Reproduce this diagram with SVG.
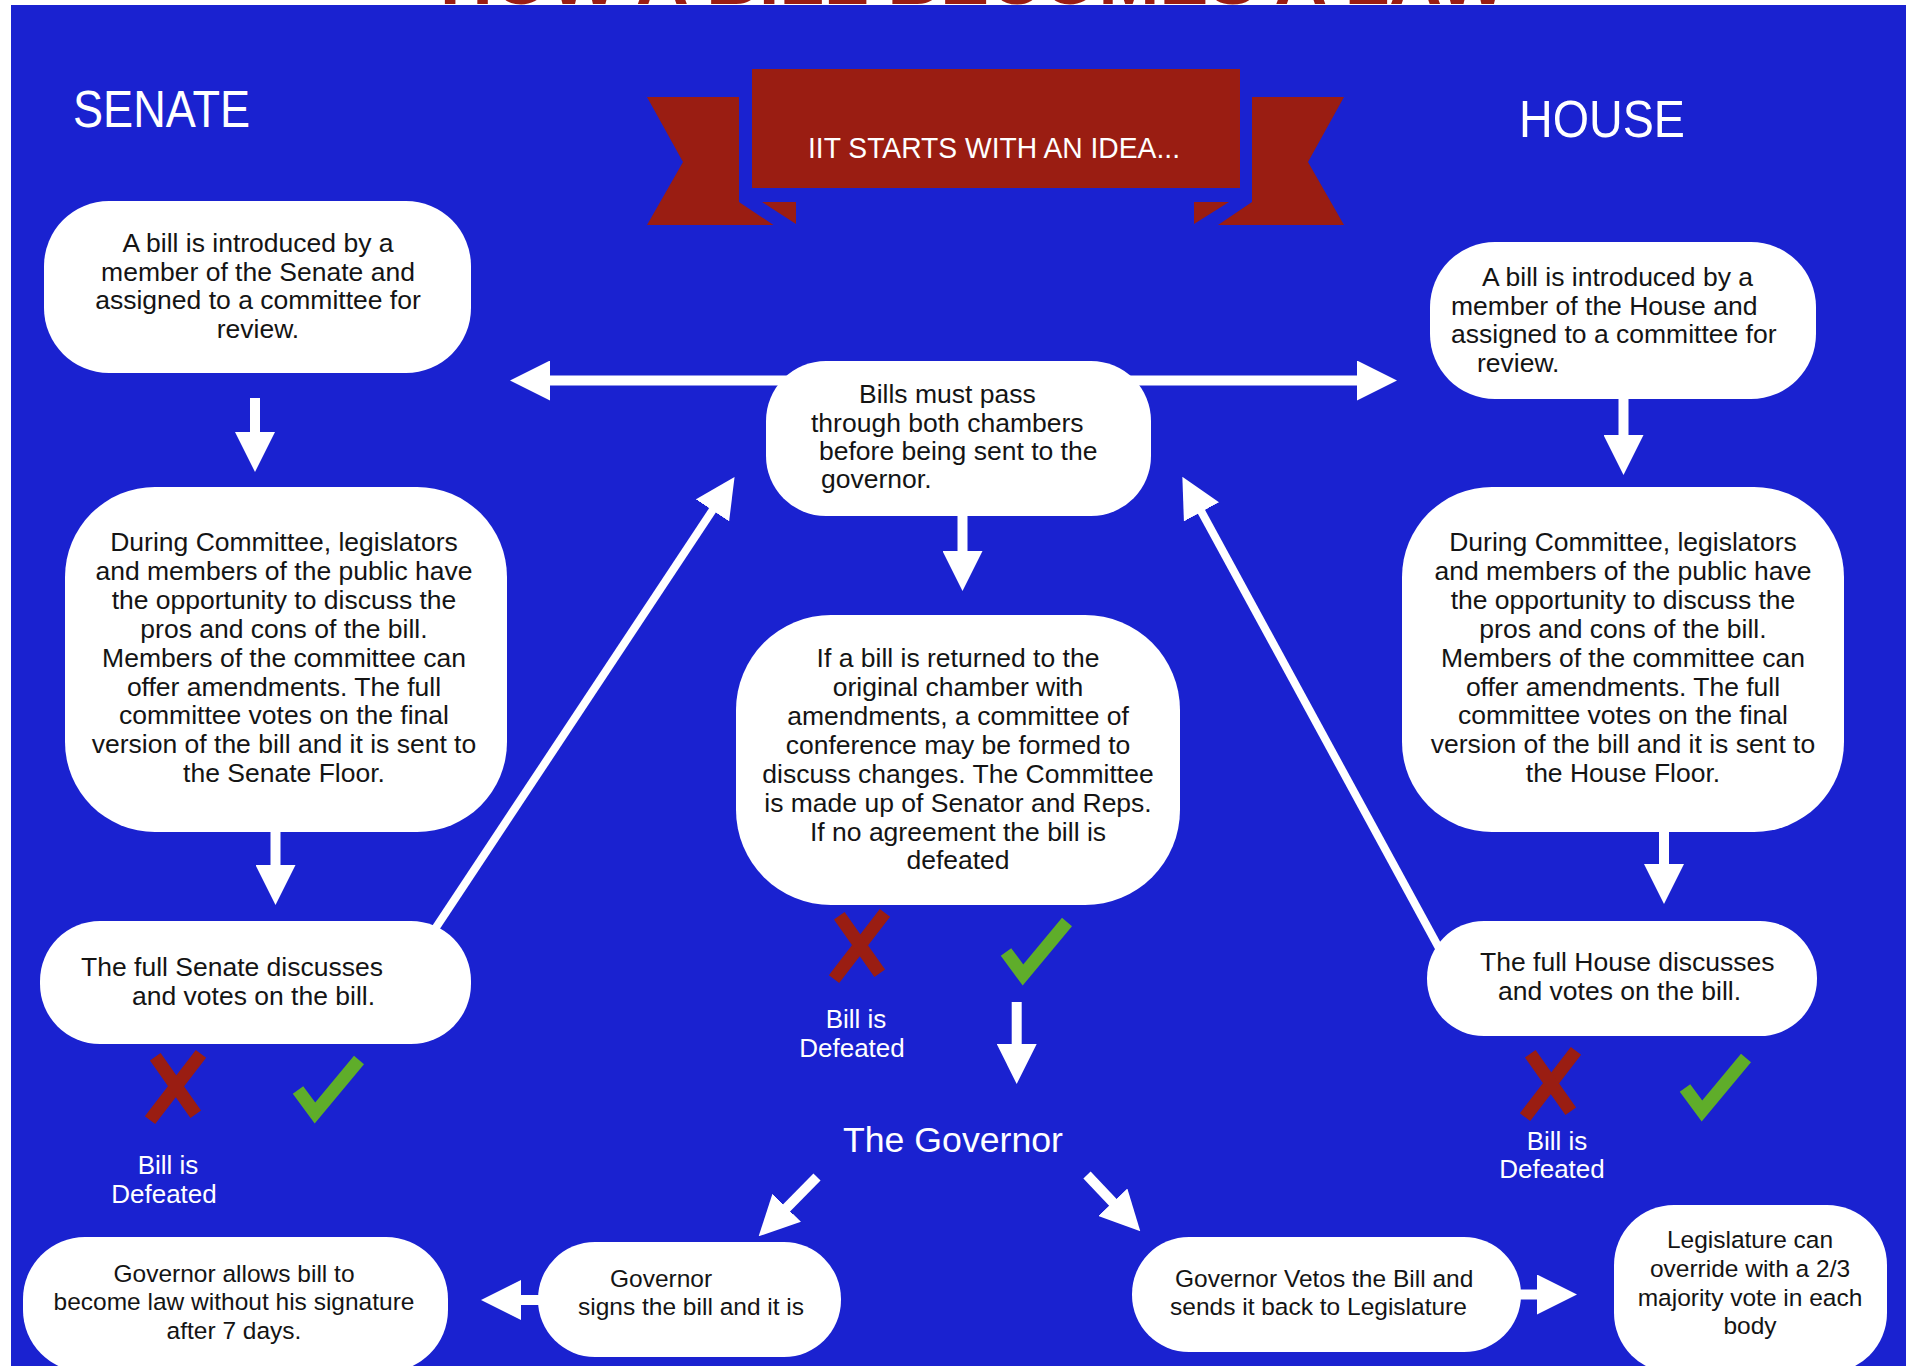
<svg xmlns="http://www.w3.org/2000/svg" width="1906" height="1366" viewBox="0 0 1906 1366">
  <defs>
    <style>
      .box { fill: #ffffff; }
      .t { font-family: "Liberation Sans", Arial, sans-serif; font-size: 26.5px; fill: #141414; }
      .ts { font-family: "Liberation Sans", Arial, sans-serif; font-size: 24.5px; fill: #141414; }
      .w { font-family: "Liberation Sans", Arial, sans-serif; fill: #ffffff; }
      .lbl { font-family: "Liberation Sans", Arial, sans-serif; font-size: 26px; fill: #ffffff; }
      .mid { text-anchor: middle; }
      .conn { stroke: #ffffff; stroke-width: 10; fill: none; marker-end: url(#head); }
      .diag { stroke: #ffffff; stroke-width: 8; fill: none; marker-end: url(#head); }
      .red { fill: #9a1d12; }
      .xmark { stroke: #9a1d12; stroke-width: 13; stroke-linecap: square; fill: none; }
      .check { stroke: #5fad2a; stroke-width: 13; stroke-linejoin: miter; stroke-linecap: butt; fill: none; }
    </style>
    <marker id="head" markerUnits="userSpaceOnUse" markerWidth="40" markerHeight="40" viewBox="0 0 40 40" refX="1" refY="20" orient="auto">
      <path d="M0,0 L40,20 L0,40 Z" fill="#ffffff"/>
    </marker>
    <g id="xm">
      <line class="xmark" x1="-21" y1="28" x2="22" y2="-28"/>
      <line class="xmark" x1="-16" y1="-25" x2="17" y2="22"/>
    </g>
    <polyline id="ck" class="check" points="-28,4 -11,27 33,-26"/>
  </defs>

  <rect x="0" y="0" width="1906" height="1366" fill="#ffffff"/>
  <text x="440" y="4" font-family="Liberation Sans, Arial, sans-serif" font-weight="bold" font-size="72" fill="#9a1d12" textLength="1067" lengthAdjust="spacingAndGlyphs">HOW A BILL BECOMES A LAW</text>
  <rect x="11" y="5" width="1895" height="1361" fill="#1a22d0"/>

  <g id="headers">
    <text class="w" x="73" y="127" font-size="51" textLength="177" lengthAdjust="spacingAndGlyphs">SENATE</text>
    <text class="w" x="1519" y="137" font-size="51" textLength="166" lengthAdjust="spacingAndGlyphs">HOUSE</text>
  </g>

  <g id="banner">
    <path class="red" d="M647,97 L739,97 L739,202 L773.5,225 L647,225 L683,162 Z"/>
    <path class="red" d="M762,202 L796,202 L796,224 Z"/>
    <path class="red" d="M1252,97 L1344,97 L1308,162 L1344,225 L1218,225 L1252,202 Z"/>
    <path class="red" d="M1194,202 L1229,202 L1194,224 Z"/>
    <rect class="red" x="752" y="69" width="488" height="119"/>
    <text class="w" x="808" y="158" font-size="29" textLength="372" lengthAdjust="spacingAndGlyphs">IIT STARTS WITH AN IDEA...</text>
  </g>

  <g id="connectors">
    <line class="conn" x1="255" y1="398" x2="255" y2="433"/>
    <line class="conn" x1="275.5" y1="825" x2="275.5" y2="866"/>
    <line class="conn" x1="1623.5" y1="395" x2="1623.5" y2="436"/>
    <line class="conn" x1="1664" y1="825" x2="1664" y2="865"/>
    <line class="conn" x1="800" y1="380.5" x2="549" y2="380.5"/>
    <line class="conn" x1="1120" y1="380.5" x2="1358" y2="380.5"/>
    <line class="conn" x1="962.5" y1="510" x2="962.5" y2="552"/>
    <line class="conn" x1="1016.7" y1="1002" x2="1016.7" y2="1045"/>
    <line class="diag" x1="433" y1="932" x2="713" y2="509.5"/>
    <line class="diag" x1="1439" y1="948" x2="1201" y2="511"/>
    <line class="conn" x1="817" y1="1177" x2="786" y2="1208.5"/>
    <line class="conn" x1="1087" y1="1175" x2="1113.5" y2="1203"/>
    <line class="conn" x1="548" y1="1300" x2="520" y2="1300"/>
    <line class="conn" x1="1510" y1="1294.5" x2="1538" y2="1294.5"/>
  </g>

  <g id="senate-intro">
    <rect class="box" x="44" y="201" width="427" height="172" rx="65" ry="65"/>
    <text class="t mid" x="258" y="252">A bill is introduced by a</text>
    <text class="t mid" x="258" y="281">member of the Senate and</text>
    <text class="t mid" x="258" y="309">assigned to a committee for</text>
    <text class="t mid" x="258" y="338">review.</text>
  </g>

  <g id="senate-committee">
    <rect class="box" x="65" y="487" width="442" height="345" rx="90" ry="90"/>
    <text class="t mid" x="284" y="551">During Committee, legislators</text>
    <text class="t mid" x="284" y="580">and members of the public have</text>
    <text class="t mid" x="284" y="609">the opportunity to discuss the</text>
    <text class="t mid" x="284" y="638">pros and cons of the bill.</text>
    <text class="t mid" x="284" y="667">Members of the committee can</text>
    <text class="t mid" x="284" y="696">offer amendments. The full</text>
    <text class="t mid" x="284" y="724">committee votes on the final</text>
    <text class="t mid" x="284" y="753">version of the bill and it is sent to</text>
    <text class="t mid" x="284" y="782">the Senate Floor.</text>
  </g>

  <g id="senate-floor">
    <rect class="box" x="40" y="921" width="431" height="123" rx="60" ry="60"/>
    <text class="t" x="81" y="976">The full Senate discusses</text>
    <text class="t" x="132" y="1005">and votes on the bill.</text>
  </g>

  <g id="senate-votes">
    <use href="#xm" x="175" y="1087"/>
    <use href="#ck" x="326" y="1086"/>
    <text class="lbl mid" x="168" y="1174">Bill is</text>
    <text class="lbl mid" x="164" y="1203">Defeated</text>
  </g>

  <g id="both-chambers">
    <rect class="box" x="766" y="361" width="385" height="155" rx="60" ry="60"/>
    <text class="t" x="859" y="403">Bills must pass</text>
    <text class="t" x="811" y="432">through both chambers</text>
    <text class="t" x="819" y="460">before being sent to the</text>
    <text class="t" x="821" y="488">governor.</text>
  </g>

  <g id="conference">
    <rect class="box" x="736" y="615" width="444" height="290" rx="95" ry="95"/>
    <text class="t mid" x="958" y="667">If a bill is returned to the</text>
    <text class="t mid" x="958" y="696">original chamber with</text>
    <text class="t mid" x="958" y="725">amendments, a committee of</text>
    <text class="t mid" x="958" y="754">conference may be formed to</text>
    <text class="t mid" x="958" y="783">discuss changes. The Committee</text>
    <text class="t mid" x="958" y="812">is made up of Senator and Reps.</text>
    <text class="t mid" x="958" y="841">If no agreement the bill is</text>
    <text class="t mid" x="958" y="869">defeated</text>
  </g>

  <g id="conference-votes">
    <use href="#xm" x="859" y="946"/>
    <use href="#ck" x="1034" y="948"/>
    <text class="lbl mid" x="856" y="1028">Bill is</text>
    <text class="lbl mid" x="852" y="1057">Defeated</text>
  </g>

  <g id="governor">
    <text class="w" x="843" y="1152" font-size="35" textLength="220" lengthAdjust="spacingAndGlyphs">The Governor</text>
  </g>

  <g id="house-intro">
    <rect class="box" x="1430" y="242" width="386" height="157" rx="65" ry="65"/>
    <text class="t" x="1482" y="286">A bill is introduced by a</text>
    <text class="t" x="1451" y="315">member of the House and</text>
    <text class="t" x="1451" y="343">assigned to a committee for</text>
    <text class="t" x="1477" y="372">review.</text>
  </g>

  <g id="house-committee">
    <rect class="box" x="1402" y="487" width="442" height="345" rx="90" ry="90"/>
    <text class="t mid" x="1623" y="551">During Committee, legislators</text>
    <text class="t mid" x="1623" y="580">and members of the public have</text>
    <text class="t mid" x="1623" y="609">the opportunity to discuss the</text>
    <text class="t mid" x="1623" y="638">pros and cons of the bill.</text>
    <text class="t mid" x="1623" y="667">Members of the committee can</text>
    <text class="t mid" x="1623" y="696">offer amendments. The full</text>
    <text class="t mid" x="1623" y="724">committee votes on the final</text>
    <text class="t mid" x="1623" y="753">version of the bill and it is sent to</text>
    <text class="t mid" x="1623" y="782">the House Floor.</text>
  </g>

  <g id="house-floor">
    <rect class="box" x="1427" y="921" width="390" height="115" rx="57" ry="57"/>
    <text class="t" x="1480" y="971">The full House discusses</text>
    <text class="t" x="1498" y="1000">and votes on the bill.</text>
  </g>

  <g id="house-votes">
    <use href="#xm" x="1550" y="1084"/>
    <use href="#ck" x="1713" y="1084"/>
    <text class="lbl mid" x="1557" y="1150">Bill is</text>
    <text class="lbl mid" x="1552" y="1178">Defeated</text>
  </g>

  <g id="allows-without-signature">
    <rect class="box" x="23" y="1237" width="425" height="135" rx="62" ry="62"/>
    <text class="ts mid" x="234" y="1282">Governor allows bill to</text>
    <text class="ts mid" x="234" y="1310">become law without his signature</text>
    <text class="ts mid" x="234" y="1339">after 7 days.</text>
  </g>

  <g id="governor-signs">
    <rect class="box" x="538" y="1242" width="303" height="115" rx="57" ry="57"/>
    <text class="ts" x="610" y="1287">Governor</text>
    <text class="ts" x="578" y="1315">signs the bill and it is</text>
  </g>

  <g id="governor-vetos">
    <rect class="box" x="1132" y="1237" width="389" height="115" rx="57" ry="57"/>
    <text class="ts" x="1175" y="1287">Governor Vetos the Bill and</text>
    <text class="ts" x="1170" y="1315">sends it back to Legislature</text>
  </g>

  <g id="override">
    <rect class="box" x="1614" y="1205" width="273" height="168" rx="60" ry="60"/>
    <text class="ts mid" x="1750" y="1248">Legislature can</text>
    <text class="ts mid" x="1750" y="1277">override with a 2/3</text>
    <text class="ts mid" x="1750" y="1306">majority vote in each</text>
    <text class="ts mid" x="1750" y="1334">body</text>
  </g>
</svg>
